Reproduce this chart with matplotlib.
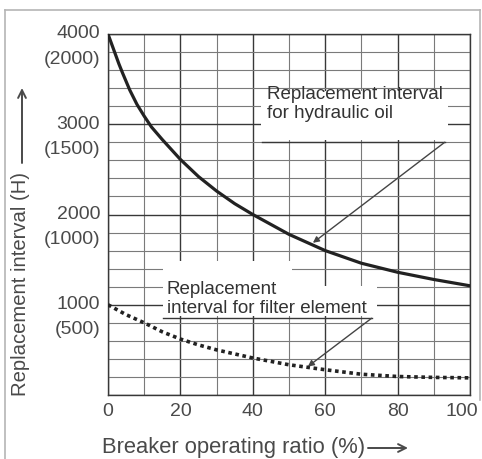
import matplotlib
matplotlib.use("Agg")
import matplotlib.pyplot as plt
from matplotlib.lines import Line2D
from matplotlib.patches import Rectangle, FancyArrowPatch
from matplotlib.ticker import MultipleLocator

# breaker operating ratio (%) vs replacement interval (H)
ratio = [0, 1, 2, 3, 4, 6, 8, 10, 12, 15, 20, 25, 30, 35, 40, 50, 60, 70, 80, 90, 100]
oil_hours = [4000, 3890, 3780, 3670, 3570, 3380, 3220, 3090, 2970, 2830, 2610,
             2420, 2260, 2120, 2000, 1780, 1600, 1460, 1360, 1280, 1210]

filter_ratio = [0, 5, 10, 15, 20, 25, 30, 40, 50, 60, 70, 80, 90, 100]
filter_hours = [1000, 890, 800, 700, 620, 555, 500, 410, 335, 280, 230, 205, 195, 190]

x_ticks = [0, 20, 40, 60, 80, 100]
y_ticks = [1000, 2000, 3000, 4000]
y_alt_labels = ["(500)", "(1000)", "(1500)", "(2000)"]

FONT = ["Liberation Sans", "DejaVu Sans"]
INK = "#222222"
TXT = "#4a4a4a"
MAJOR = "#383838"
MINOR = "#7a7a7a"

plt.rcParams["font.family"] = FONT

W, H = 482, 459
fig = plt.figure(figsize=(W / 100, H / 100), dpi=100)
ax = fig.add_axes([108 / W, 1 - 395 / H, 362 / W, 361 / H])

ax.set_xlim(0, 100)
ax.set_ylim(0, 4000)

ax.xaxis.set_major_locator(MultipleLocator(20))
ax.xaxis.set_minor_locator(MultipleLocator(10))
ax.yaxis.set_major_locator(MultipleLocator(1000))
ax.yaxis.set_minor_locator(MultipleLocator(200))
ax.grid(True, which="major", color=MAJOR, linewidth=1.0, zorder=0)
ax.grid(True, which="minor", color=MINOR, linewidth=0.8, zorder=0)
ax.set_axisbelow(True)
ax.tick_params(which="both", length=0)
ax.set_xticklabels([])
ax.set_yticklabels([])
for s in ax.spines.values():
    s.set_color(MAJOR)
    s.set_linewidth(1.0)

# white patches behind the annotation text (hide the grid there)
ax.add_patch(Rectangle((42.3, 2830), 51.6, 540, facecolor="white",
                       edgecolor="none", zorder=1))
ax.add_patch(Rectangle((15.2, 1200), 35.6, 280, facecolor="white",
                       edgecolor="none", zorder=1))
ax.add_patch(Rectangle((15.2, 875), 59.0, 330, facecolor="white",
                       edgecolor="none", zorder=1))

ax.plot(ratio, oil_hours, color=INK, linewidth=2.3, solid_capstyle="round",
        solid_joinstyle="round", zorder=3)
ax.plot(filter_ratio, filter_hours, color=INK, linewidth=2.6,
        linestyle=(0, (1, 1.0)), dash_capstyle="butt", zorder=3)

# tick labels
for x in x_ticks:
    dx = -8 if x == 100 else 0
    ax.annotate(str(x), xy=(x, 0), xytext=(dx, -16), textcoords="offset pixels",
                ha="center", va="center", fontsize=14, color=TXT)
for y, alt in zip(y_ticks, y_alt_labels):
    ax.annotate(str(y), xy=(0, y), xytext=(-8, 0), textcoords="offset pixels",
                ha="right", va="center", fontsize=14, color=TXT)
    ax.annotate(alt, xy=(0, y), xytext=(-8, -25), textcoords="offset pixels",
                ha="right", va="center", fontsize=14, color=TXT)

# annotations
ax.text(43.9, 3220, "Replacement interval\nfor hydraulic oil", fontsize=13.5,
        color="#333333", ha="left", va="center", linespacing=1.15, zorder=4)
ax.plot([42.5, 93.0], [2800, 2800], color=MAJOR, linewidth=1.0, zorder=2)
ax.annotate("", xy=(56.6, 1686), xytext=(93.0, 2800),
            arrowprops=dict(arrowstyle="-|>", color="#444444", lw=1.0,
                            mutation_scale=9, shrinkA=0, shrinkB=0), zorder=4)

ax.text(16.2, 1060, "Replacement\ninterval for filter element", fontsize=13.5,
        color="#333333", ha="left", va="center", linespacing=1.15, zorder=4)
ax.plot([15.2, 72.8], [850, 850], color=MAJOR, linewidth=1.0, zorder=2)
ax.annotate("", xy=(55.2, 315), xytext=(72.8, 850),
            arrowprops=dict(arrowstyle="-|>", color="#444444", lw=1.0,
                            mutation_scale=9, shrinkA=0, shrinkB=0), zorder=4)

# axis labels with long arrows
fig.text(102 / W, 1 - 447 / H, "Breaker operating ratio (%)", fontsize=15.8,
         color=TXT, ha="left", va="center")
fig.add_artist(FancyArrowPatch(
    (368 / W, 1 - 448 / H), (408 / W, 1 - 448 / H), transform=fig.transFigure,
    arrowstyle="->", mutation_scale=14, color=TXT, lw=1.4, shrinkA=0, shrinkB=0))

fig.text(21 / W, 1 - 396 / H, "Replacement interval (H)", fontsize=14.6,
         color=TXT, ha="center", va="bottom", rotation=90)
fig.add_artist(FancyArrowPatch(
    (22 / W, 1 - 163 / H), (22 / W, 1 - 88 / H), transform=fig.transFigure,
    arrowstyle="->", mutation_scale=14, color=TXT, lw=1.4, shrinkA=0, shrinkB=0))

# scanned frame around the figure
frame = dict(color="#b5b5b5", linewidth=1.2, transform=fig.transFigure)
fig.add_artist(Line2D([5 / W, 5 / W], [0, 1 - 10 / H], **frame))
fig.add_artist(Line2D([5 / W, 480 / W], [1 - 10 / H, 1 - 10 / H], **frame))
fig.add_artist(Line2D([480 / W, 480 / W], [1 - 10 / H, 1 - 400 / H], **frame))

fig.savefig("out.png", dpi=100, facecolor="white")
